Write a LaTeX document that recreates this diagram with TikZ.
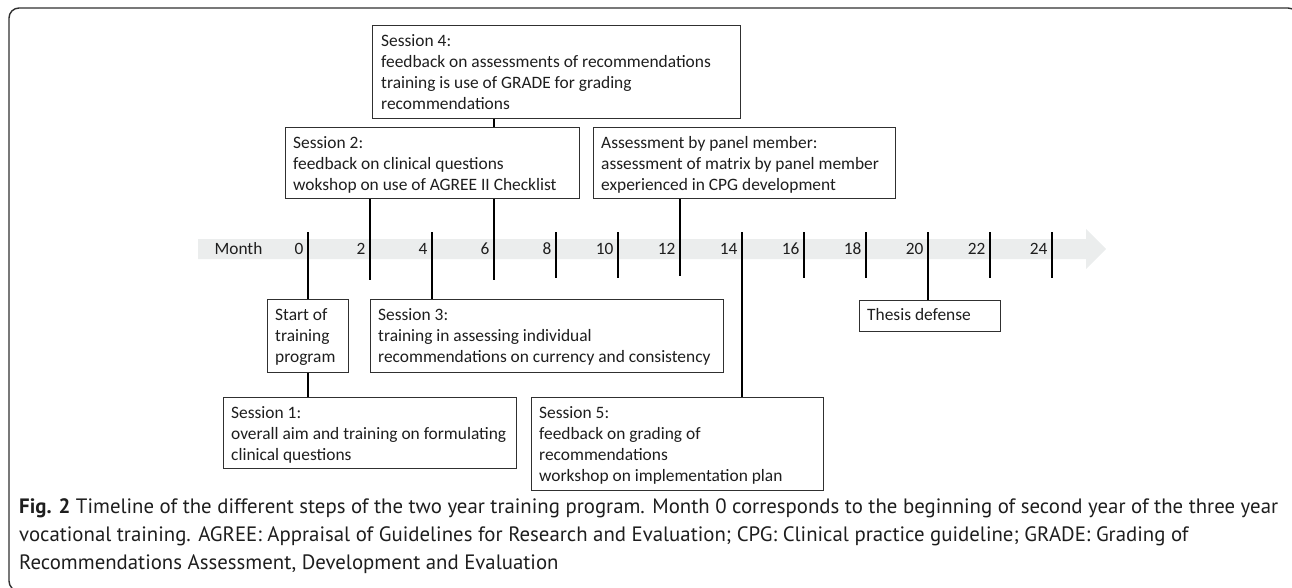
\documentclass[tikz,border=0pt]{standalone}
\usepackage{fontspec}
\setmainfont{Carlito}
\newfontfamily\capfont{PT Sans}
\definecolor{band}{HTML}{EBEDED}
\definecolor{txt}{HTML}{1E1E1E}
\definecolor{boxline}{HTML}{303030}
\begin{document}
\begin{tikzpicture}[x=1pt,y=-1pt,
  tbox/.style={draw=boxline, line width=1.1pt, fill=white, anchor=north west,
    inner sep=0pt},
  btext/.style={anchor=north west, inner sep=0pt, align=left, text=txt,
    font=\fontsize{17.4}{21}\selectfont},
  conn/.style={line width=2.4pt, black},
  ticklab/.style={anchor=east, inner sep=0pt, text=txt, font=\fontsize{17.3}{21}\selectfont},
  captext/.style={anchor=base west, inner sep=0pt, text=txt, font=\capfont\fontsize{20.8}{28}\selectfont}]
\clip (0,0) rectangle (1292,588);
% frame
\draw[boxline, line width=1.4pt, rounded corners=10pt] (9,8) rectangle (1298,591);
% timeline band
\fill[band] (198,239) -- (1086,239) -- (1086,229) -- (1106,249) -- (1086,269) -- (1086,259) -- (198,259) -- cycle;
\node[ticklab, anchor=center] (month) at (238.5,249) {Month};
% tick coordinates
\foreach \m [count=\i from 0] in {0,2,...,24} {
  \coordinate (t\m a) at (308+62*\i,232);
  \coordinate (t\m b) at (308+62*\i,278);
  \node[ticklab] (l\m) at (303.5+62*\i,249) {\m};
}
% boxes
\node[tbox, minimum width=368pt, minimum height=93pt] (s4) at (372,25) {};
\node[btext] (s4t) at ([shift={(9,6.3)}]s4.north west)
  {\strut Session 4:\\feedback on assessments of recommendations\\training is use of GRADE for grading\\recommendations};
\node[tbox, minimum width=294pt, minimum height=71pt] (s2) at (285,127) {};
\node[btext] (s2t) at ([shift={(8,6.3)}]s2.north west)
  {\strut Session 2:\\feedback on clinical questions\\wokshop on use of AGREE II Checklist};
\node[tbox, minimum width=302pt, minimum height=71pt] (asm) at (593,127) {};
\node[btext] (asmt) at ([shift={(8,6.3)}]asm.north west)
  {\strut Assessment by panel member:\\assessment of matrix by panel member\\experienced in CPG development};
\node[tbox, minimum width=81pt, minimum height=73pt] (start) at (267,299) {};
\node[btext] (startt) at ([shift={(8,6.6)}]start.north west)
  {\strut Start of\\training\\program};
\node[tbox, minimum width=353pt, minimum height=73pt] (s3) at (370,299) {};
\node[btext] (s3t) at ([shift={(8,6.6)}]s3.north west)
  {\strut Session 3:\\training in assessing individual\\recommendations on currency and consistency};
\node[tbox, minimum width=293pt, minimum height=71pt] (s1) at (223,397) {};
\node[btext] (s1t) at ([shift={(8,6.3)}]s1.north west)
  {\strut Session 1:\\overall aim and training on formulating\\clinical questions};
\node[tbox, minimum width=292pt, minimum height=93pt] (s5) at (531,397) {};
\node[btext] (s5t) at ([shift={(8,6.3)}]s5.north west)
  {\strut Session 5:\\feedback on grading of\\recommendations\\workshop on implementation plan};
\node[tbox, minimum width=141pt, minimum height=31pt] (thesis) at (859,300) {};
\node[btext] (thesist) at ([shift={(8,5.3)}]thesis.north west) {\strut Thesis defense};
% ticks and connectors
\foreach \m in {8,10,16,18,22,24} { \draw[conn] (t\m a) -- (t\m b); }
\draw[conn] (t0a) -- (t0a |- start.north);
\draw[conn] (start.south -| t0a) -- (t0a |- s1.north);
\draw[conn] (s2.south -| t2a) -- ([yshift=-2pt]t2b);
\draw[conn] (t4a) -- (t4a |- s3.north);
\draw[conn] (s4.south -| t6a) -- (t6a |- s2.north);
\draw[conn] (s2.south -| t6a) -- ([yshift=-2pt]t6b);
\draw[conn] (asm.south -| t12a) -- ([yshift=2pt]t12b);
\draw[conn] (t14a) -- (t14a |- s5.north);
\draw[conn] (t20a) -- (t20a |- thesis.north);
% caption
\node[captext] (cap1) at (19,513) {\textbf{Fig. 2} Timeline of the different steps of the two year training program. Month 0 corresponds to the beginning of second year of the three year};
\node[captext] (cap2) at (19,541) {vocational training. AGREE: Appraisal of Guidelines for Research and Evaluation; CPG: Clinical practice guideline; GRADE: Grading of};
\node[captext] (cap3) at (19,569) {Recommendations Assessment, Development and Evaluation};
\end{tikzpicture}
\end{document}
